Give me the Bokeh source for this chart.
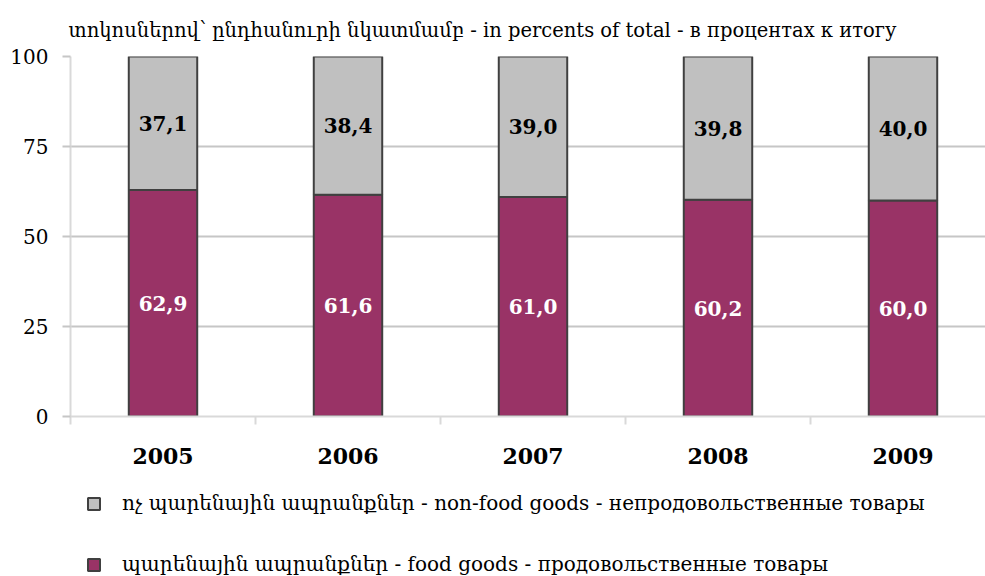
from bokeh.plotting import figure
from bokeh.layouts import column
from bokeh.core.properties import value
from bokeh.models import (ColumnDataSource, Range1d, FixedTicker, Legend, LegendItem,
                          LabelSet)
from bokeh.embed import file_html
from bokeh.resources import INLINE

years = ["2005", "2006", "2007", "2008", "2009"]
food = [62.9, 61.6, 61.0, 60.2, 60.0]
nonfood = [37.1, 38.4, 39.0, 39.8, 40.0]
food_labels = ["62,9", "61,6", "61,0", "60,2", "60,0"]
nonfood_labels = ["37,1", "38,4", "39,0", "39,8", "40,0"]
yticks = [0, 25, 50, 75, 100]

title_text = "տոկոսներով՝ ընդհանուրի նկատմամբ - in percents of total - в процентах к итогу"
nonfood_name = "ոչ պարենային ապրանքներ - non-food goods - непродовольственные товары"
food_name = "պարենային ապրանքներ - food goods - продовольственные товары"

FOOD_COLOR = "#993366"
NONFOOD_COLOR = "#c0c0c0"
EDGE = "#404040"

TXT = "DejaVu Serif"
NUMF = "DejaVu Serif"

xs = list(range(len(years)))
top_all = [f + n for f, n in zip(food, nonfood)]
src = ColumnDataSource(dict(
    x=xs, food=food, nonfood=nonfood, top=top_all,
    food_mid=[f / 2 for f in food],
    non_mid=[f + n / 2 for f, n in zip(food, nonfood)],
    flab=food_labels, nlab=nonfood_labels,
))

W = 985
H1 = 478
H2 = 98
frame_left = 70
unit = 185.0
p = figure(width=W, height=H1, output_backend="svg", toolbar_location=None,
           x_range=Range1d(-0.5, -0.5 + (W - frame_left) / unit),
           y_range=Range1d(0, 100),
           min_border_left=frame_left, min_border_right=0, min_border_top=56,
           min_border_bottom=62)
p.outline_line_color = None
p.background_fill_color = "white"
p.border_fill_color = "white"

p.title.text = title_text
p.title.text_font = TXT
p.title.text_font_size = "19.5px"
p.title.text_font_style = "normal"
p.title.text_color = "black"
p.title.align = "left"
p.title.offset = -2
p.title.standoff = 26
p.title.vertical_align = "top"

p.vbar(x="x", bottom=0, top="food", width=0.37, source=src,
       fill_color=FOOD_COLOR, line_color=EDGE, line_width=2)
p.vbar(x="x", bottom="food", top="top", width=0.37, source=src,
       fill_color=NONFOOD_COLOR, line_color=EDGE, line_width=2)

p.add_layout(LabelSet(x="x", y="food_mid", text="flab", source=src,
                      text_align="center", text_baseline="middle",
                      text_color="white", text_font=value(NUMF), text_font_size="20px",
                      text_font_style="bold"))
p.add_layout(LabelSet(x="x", y="non_mid", text="nlab", source=src,
                      text_align="center", text_baseline="middle",
                      text_color="black", text_font=value(NUMF), text_font_size="20px",
                      text_font_style="bold"))

p.xgrid.grid_line_color = None
p.ygrid.grid_line_color = "#c6c6c6"
p.ygrid.grid_line_width = 2
p.ygrid.ticker = FixedTicker(ticks=yticks)

p.yaxis.ticker = FixedTicker(ticks=yticks)
p.yaxis.axis_line_color = "#d9d9d9"
p.yaxis.axis_line_width = 2
p.yaxis.major_tick_line_color = "#c6c6c6"
p.yaxis.major_tick_line_width = 2
p.yaxis.major_tick_out = 8
p.yaxis.major_tick_in = 0
p.yaxis.minor_tick_line_color = None
p.yaxis.major_label_text_font = TXT
p.yaxis.major_label_text_font_size = "20px"
p.yaxis.major_label_text_color = "black"
p.yaxis.major_label_standoff = 14

p.xaxis.ticker = FixedTicker(ticks=xs, minor_ticks=[i - 0.5 for i in xs])
p.xaxis.major_label_overrides = {i: y for i, y in zip(xs, years)}
p.xaxis.axis_line_color = "#d9d9d9"
p.xaxis.axis_line_width = 2
p.xaxis.major_tick_line_color = None
p.xaxis.major_tick_out = 0
p.xaxis.major_tick_in = 0
p.xaxis.minor_tick_line_color = "#d9d9d9"
p.xaxis.minor_tick_line_width = 2
p.xaxis.minor_tick_out = 8
p.xaxis.minor_tick_in = 0
p.xaxis.major_label_text_font = NUMF
p.xaxis.major_label_text_font_size = "22px"
p.xaxis.major_label_text_font_style = "bold"
p.xaxis.major_label_text_color = "black"
p.xaxis.major_label_standoff = 23

# legend figure (series renderers kept hidden; only their legend swatches show)
q = figure(width=W, height=H2, output_backend="svg", toolbar_location=None,
           x_range=Range1d(0, 1), y_range=Range1d(0, 1),
           min_border=0, x_axis_type=None, y_axis_type=None)
q.outline_line_color = None
q.xgrid.grid_line_color = None
q.ygrid.grid_line_color = None
g_non = q.vbar(x="x", bottom="food", top="top", width=0.37, source=src,
               fill_color=NONFOOD_COLOR, line_color=EDGE, line_width=2, visible=False)
g_food = q.vbar(x="x", bottom=0, top="food", width=0.37, source=src,
                fill_color=FOOD_COLOR, line_color=EDGE, line_width=2, visible=False)
lg = Legend(items=[LegendItem(label=nonfood_name, renderers=[g_non]),
                   LegendItem(label=food_name, renderers=[g_food])],
            orientation="vertical", location=(16, 0))
lg.label_text_font = TXT
lg.label_text_font_size = "20px"
lg.label_text_color = "black"
lg.glyph_width = 15
lg.glyph_height = 15
lg.label_height = 20
lg.label_standoff = 21
lg.spacing = 37
lg.padding = 0
lg.margin = 0
lg.border_line_color = None
lg.background_fill_alpha = 0
lg.inactive_fill_alpha = 0
q.add_layout(lg, "center")

layout = column(p, q, spacing=0)
open("out.html", "w").write(file_html(layout, INLINE))
